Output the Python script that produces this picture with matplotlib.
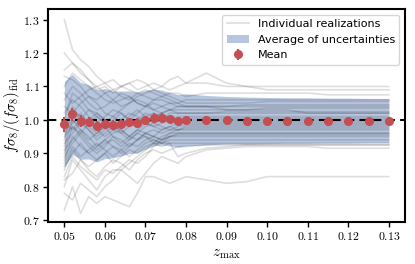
import matplotlib
matplotlib.use("Agg")
import matplotlib.pyplot as plt
from matplotlib.ticker import FuncFormatter

plt.rcParams['mathtext.fontset'] = 'cm'
plt.rcParams['font.family'] = ['DejaVu Sans']

# redshift cuts
z_max = [0.050, 0.052, 0.054, 0.056, 0.058, 0.060, 0.062, 0.064, 0.066, 0.068,
         0.070, 0.072, 0.074, 0.076, 0.078, 0.080,
         0.085, 0.090, 0.095, 0.100, 0.105, 0.110, 0.115, 0.120, 0.125, 0.130]

# mean over realizations and its error
mean_fs8 = [0.987, 1.016, 0.997, 0.994, 0.982, 0.989, 0.986, 0.989, 0.993, 0.992,
            1.000, 1.007, 1.007, 1.002, 0.997, 1.000,
            0.999, 0.999, 0.998, 0.998, 0.998, 0.998, 0.998, 0.998, 0.998, 0.998]
mean_err = [0.022, 0.018, 0.017, 0.016, 0.015, 0.015, 0.014, 0.014, 0.013, 0.013,
            0.012, 0.012, 0.012, 0.011, 0.011, 0.011,
            0.011, 0.010, 0.010, 0.010, 0.010, 0.010, 0.010, 0.010, 0.010, 0.010]

# average of the individual uncertainties
avg_sigma = [0.128, 0.120, 0.115, 0.111, 0.108, 0.105, 0.100, 0.097, 0.094, 0.091,
             0.088, 0.085, 0.082, 0.080, 0.079, 0.078,
             0.074, 0.071, 0.070, 0.069, 0.068, 0.068, 0.067, 0.067, 0.066, 0.066]

realizations = [
    [1.30, 1.21, 1.18, 1.16, 1.13, 1.11, 1.12, 1.10, 1.09, 1.08, 1.07, 1.06, 1.06, 1.05, 1.05, 1.04,
     1.04, 1.03, 1.03, 1.03, 1.03, 1.02, 1.02, 1.02, 1.02, 1.02],
    [1.20, 1.17, 1.15, 1.12, 1.10, 1.11, 1.09, 1.10, 1.11, 1.09, 1.10, 1.11, 1.10, 1.09, 1.10, 1.11,
     1.11, 1.10, 1.10, 1.10, 1.10, 1.10, 1.10, 1.10, 1.10, 1.10],
    [1.15, 1.17, 1.14, 1.12, 1.09, 1.10, 1.08, 1.10, 1.11, 1.12, 1.11, 1.09, 1.10, 1.12, 1.13, 1.11,
     1.14, 1.11, 1.10, 1.09, 1.09, 1.09, 1.09, 1.09, 1.09, 1.09],
    [1.13, 1.12, 1.10, 1.07, 1.06, 1.08, 1.09, 1.07, 1.06, 1.08, 1.09, 1.08, 1.07, 1.08, 1.08, 1.07,
     1.08, 1.08, 1.08, 1.08, 1.08, 1.08, 1.075, 1.075, 1.075, 1.075],
    [1.10, 1.14, 1.12, 1.10, 1.08, 1.06, 1.05, 1.06, 1.07, 1.05, 1.04, 1.06, 1.07, 1.06, 1.05, 1.06,
     1.06, 1.06, 1.06, 1.06, 1.06, 1.06, 1.06, 1.06, 1.06, 1.06],
    [1.08, 1.05, 1.07, 1.09, 1.10, 1.08, 1.06, 1.04, 1.05, 1.07, 1.08, 1.09, 1.08, 1.07, 1.06, 1.05,
     1.05, 1.05, 1.05, 1.055, 1.055, 1.055, 1.055, 1.055, 1.055, 1.055],
    [1.06, 1.10, 1.08, 1.05, 1.03, 1.04, 1.06, 1.08, 1.07, 1.05, 1.04, 1.03, 1.04, 1.05, 1.04, 1.04,
     1.04, 1.04, 1.045, 1.045, 1.045, 1.045, 1.045, 1.045, 1.045, 1.045],
    [1.04, 1.02, 1.05, 1.07, 1.05, 1.02, 1.01, 1.03, 1.05, 1.06, 1.05, 1.03, 1.02, 1.03, 1.04, 1.04,
     1.04, 1.04, 1.04, 1.04, 1.04, 1.04, 1.04, 1.04, 1.04, 1.04],
    [1.02, 1.06, 1.04, 1.01, 0.99, 1.01, 1.03, 1.02, 1.00, 1.02, 1.04, 1.05, 1.04, 1.03, 1.03, 1.03,
     1.03, 1.03, 1.03, 1.035, 1.035, 1.035, 1.035, 1.035, 1.035, 1.035],
    [1.00, 1.08, 1.06, 1.03, 1.02, 1.00, 0.98, 1.00, 1.02, 1.01, 0.99, 1.00, 1.02, 1.03, 1.02, 1.02,
     1.02, 1.025, 1.025, 1.025, 1.025, 1.025, 1.025, 1.025, 1.025, 1.025],
    [0.99, 0.97, 1.00, 1.03, 1.01, 0.99, 1.01, 0.99, 0.98, 1.00, 1.02, 1.01, 1.00, 1.02, 1.02, 1.02,
     1.02, 1.02, 1.02, 1.02, 1.02, 1.02, 1.02, 1.02, 1.02, 1.02],
    [0.98, 1.03, 1.01, 0.98, 0.96, 0.98, 1.00, 1.02, 1.00, 0.99, 1.01, 1.02, 1.01, 1.00, 1.01, 1.01,
     1.01, 1.01, 1.01, 1.01, 1.01, 1.01, 1.01, 1.01, 1.01, 1.01],
    [0.97, 1.00, 0.98, 1.00, 1.02, 1.00, 0.97, 0.98, 1.01, 1.03, 1.01, 0.99, 1.00, 1.01, 1.00, 1.005,
     1.005, 1.005, 1.005, 1.005, 1.005, 1.005, 1.005, 1.005, 1.005, 1.005],
    [0.96, 0.99, 1.02, 0.99, 0.97, 0.95, 0.97, 1.00, 0.99, 0.98, 1.00, 1.01, 1.02, 1.00, 0.99, 1.00,
     1.00, 1.00, 1.00, 1.00, 1.00, 1.00, 1.00, 1.00, 1.00, 1.00],
    [0.95, 0.98, 0.96, 0.99, 1.01, 0.99, 0.97, 0.96, 0.98, 1.00, 0.99, 0.98, 0.99, 1.00, 0.99, 0.995,
     0.995, 0.995, 0.995, 0.995, 0.995, 0.995, 0.995, 0.995, 0.995, 0.995],
    [0.94, 1.04, 1.00, 0.97, 0.94, 0.96, 0.98, 0.97, 0.95, 0.97, 0.99, 0.98, 0.97, 0.98, 0.99, 0.99,
     0.99, 0.99, 0.99, 0.99, 0.99, 0.99, 0.99, 0.99, 0.99, 0.99],
    [0.93, 0.96, 0.99, 0.97, 0.95, 0.97, 0.99, 0.96, 0.94, 0.96, 0.98, 0.99, 0.98, 0.97, 0.98, 0.985,
     0.985, 0.985, 0.985, 0.985, 0.985, 0.985, 0.985, 0.985, 0.985, 0.985],
    [0.92, 1.00, 0.97, 0.94, 0.96, 0.98, 0.95, 0.93, 0.95, 0.97, 0.96, 0.95, 0.97, 0.98, 0.97, 0.98,
     0.98, 0.98, 0.98, 0.98, 0.98, 0.98, 0.98, 0.98, 0.98, 0.98],
    [0.91, 0.94, 0.97, 0.95, 0.92, 0.94, 0.96, 0.97, 0.95, 0.94, 0.96, 0.97, 0.96, 0.97, 0.97, 0.975,
     0.975, 0.975, 0.975, 0.975, 0.975, 0.975, 0.975, 0.975, 0.975, 0.975],
    [0.90, 0.98, 0.95, 0.92, 0.90, 0.92, 0.95, 0.94, 0.92, 0.94, 0.96, 0.95, 0.94, 0.96, 0.97, 0.97,
     0.97, 0.97, 0.97, 0.97, 0.97, 0.97, 0.97, 0.97, 0.97, 0.97],
    [0.89, 0.93, 0.96, 0.93, 0.91, 0.93, 0.94, 0.92, 0.94, 0.96, 0.95, 0.93, 0.95, 0.96, 0.96, 0.96,
     0.96, 0.96, 0.96, 0.96, 0.96, 0.96, 0.96, 0.96, 0.96, 0.96],
    [0.88, 0.95, 0.92, 0.90, 0.92, 0.94, 0.92, 0.90, 0.92, 0.94, 0.95, 0.94, 0.93, 0.95, 0.955, 0.955,
     0.955, 0.955, 0.955, 0.955, 0.955, 0.955, 0.955, 0.955, 0.955, 0.955],
    [0.87, 0.92, 0.89, 0.91, 0.93, 0.91, 0.89, 0.91, 0.93, 0.92, 0.94, 0.95, 0.94, 0.95, 0.95, 0.95,
     0.95, 0.95, 0.95, 0.95, 0.95, 0.95, 0.95, 0.95, 0.95, 0.95],
    [0.86, 0.90, 0.93, 0.90, 0.88, 0.90, 0.92, 0.91, 0.89, 0.91, 0.93, 0.94, 0.93, 0.94, 0.94, 0.94,
     0.94, 0.94, 0.94, 0.94, 0.94, 0.94, 0.94, 0.94, 0.94, 0.94],
    [0.85, 0.91, 0.88, 0.86, 0.88, 0.90, 0.87, 0.89, 0.91, 0.90, 0.92, 0.93, 0.92, 0.93, 0.93, 0.93,
     0.93, 0.93, 0.93, 0.93, 0.93, 0.93, 0.93, 0.93, 0.93, 0.93],
    [0.82, 0.84, 0.88, 0.85, 0.83, 0.86, 0.88, 0.87, 0.85, 0.88, 0.90, 0.91, 0.90, 0.91, 0.92, 0.92,
     0.925, 0.925, 0.925, 0.925, 0.925, 0.925, 0.925, 0.925, 0.925, 0.925],
    [0.80, 0.88, 0.85, 0.82, 0.79, 0.83, 0.85, 0.85, 0.87, 0.89, 0.91, 0.93, 0.93, 0.93, 0.89, 0.90,
     0.915, 0.92, 0.925, 0.925, 0.925, 0.925, 0.925, 0.925, 0.925, 0.925],
    [0.73, 0.80, 0.72, 0.77, 0.75, 0.77, 0.76, 0.75, 0.74, 0.78, 0.83, 0.83, 0.82, 0.81, 0.82, 0.83,
     0.82, 0.81, 0.815, 0.83, 0.83, 0.83, 0.83, 0.83, 0.83, 0.83],
    [0.78, 0.76, 0.81, 0.79, 0.77, 0.80, 0.82, 0.85, 0.83, 0.81, 0.84, 0.87, 0.89, 0.88, 0.87, 0.89,
     0.91, 0.915, 0.92, 0.92, 0.92, 0.92, 0.915, 0.915, 0.915, 0.915],
    [0.83, 0.89, 0.86, 0.84, 0.82, 0.85, 0.84, 0.86, 0.88, 0.87, 0.89, 0.92, 0.94, 0.95, 0.96, 0.96,
     0.96, 0.96, 0.96, 0.96, 0.96, 0.96, 0.96, 0.96, 0.96, 0.96],
]

fig = plt.figure(figsize=(4.15, 2.64), dpi=100)
ax = fig.add_axes([0.116, 0.159, 0.86, 0.807])

lower = [m - s for m, s in zip(mean_fs8, avg_sigma)]
upper = [m + s for m, s in zip(mean_fs8, avg_sigma)]
ax.fill_between(z_max, lower, upper, color='#4C72B0', alpha=0.4, lw=0,
                label='Average of uncertainties', zorder=1)

for i, r in enumerate(realizations):
    ax.plot(z_max, r, color='k', alpha=0.13, lw=1.2, zorder=2,
            label='Individual realizations' if i == 0 else None)

ax.axhline(1.0, color='k', ls='--', lw=1.5, dashes=(4, 2.5), zorder=3)
ax.errorbar(z_max, mean_fs8, yerr=mean_err, fmt='o', color='#C44E52', ms=5.5,
            elinewidth=1.5, capsize=0, zorder=4, label='Mean')

ax.set_xlim(0.046, 0.134)
ax.set_ylim(0.694, 1.332)
ax.set_xticks([0.05, 0.06, 0.07, 0.08, 0.09, 0.10, 0.11, 0.12, 0.13])
ax.set_yticks([0.7, 0.8, 0.9, 1.0, 1.1, 1.2, 1.3])
ax.xaxis.set_major_formatter(FuncFormatter(lambda v, p: r'$%.2f$' % v))
ax.yaxis.set_major_formatter(FuncFormatter(lambda v, p: r'$%.1f$' % v))
ax.tick_params(direction='out', length=3.5, width=1.0, labelsize=8.5, pad=2.5)
for sp in ax.spines.values():
    sp.set_linewidth(1.5)

ax.set_xlabel(r'$z_{\rm max}$', fontsize=11, labelpad=2)
ax.set_ylabel(r'$f\sigma_8/(f\sigma_8)_{\rm fid}$', fontsize=10.5, labelpad=1)

h, l = ax.get_legend_handles_labels()
order = [l.index('Individual realizations'), l.index('Average of uncertainties'), l.index('Mean')]
ax.legend([h[i] for i in order], [l[i] for i in order], loc='upper right',
          fontsize=8, framealpha=0.8, edgecolor='#cccccc')

fig.savefig('out.png', dpi=100)
